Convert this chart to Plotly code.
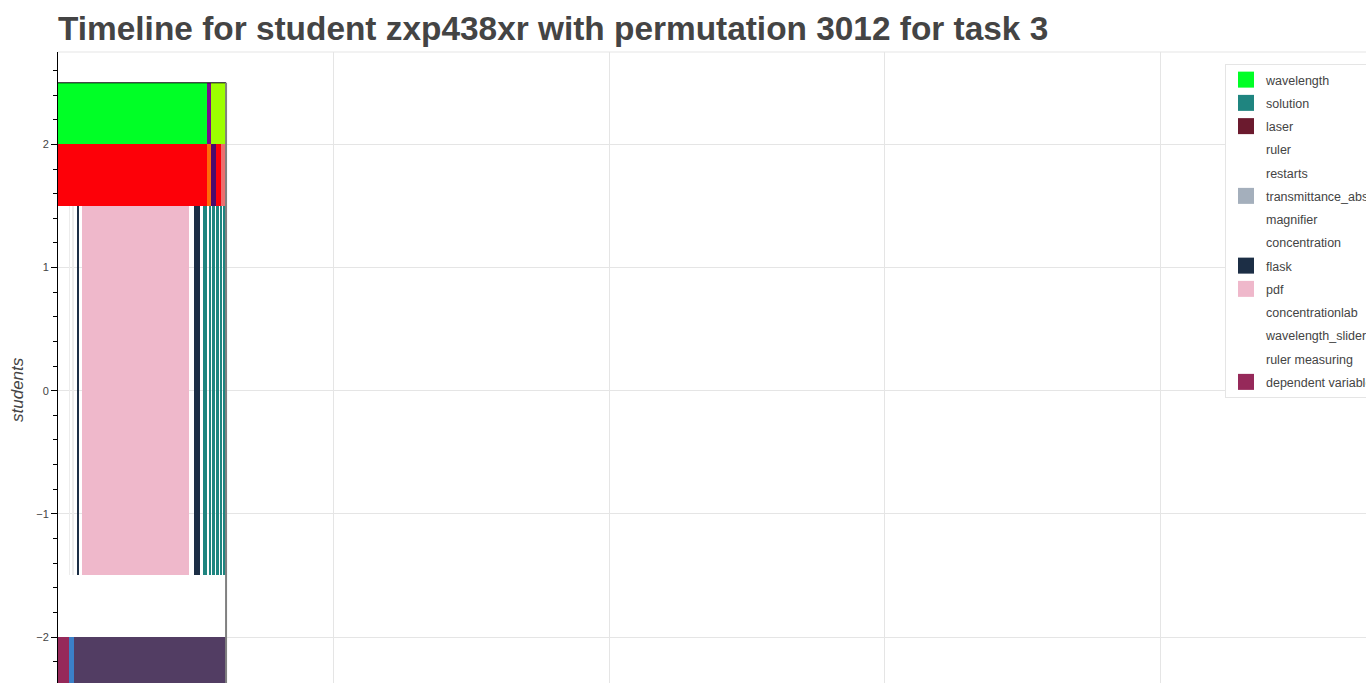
import plotly.graph_objects as go

# ---------------- data ----------------
TITLE = "Timeline for student zxp438xr with permutation 3012 for task 3"

# rows of the timeline (centre on the "students" axis, thickness)
row_center = {"wave": 2.25, "sim": 1.75, "main": 0.0, "bottom": -2.25}
row_height = {"wave": 0.5, "sim": 0.5, "main": 3.0, "bottom": 0.5}

# segments: (row, start, end) in seconds
seg_wavelength = [("wave", 0, 541)]
seg_wave_purple = [("wave", 541, 555)]
seg_wave_yellow = [("wave", 555, 608)]

seg_sim_red = [("sim", 0, 541), ("sim", 574, 592)]
seg_sim_orange = [("sim", 541, 555)]
seg_sim_purple = [("sim", 555, 574)]
seg_sim_salmon = [("sim", 592, 608)]

seg_ruler = [("main", 40, 43.5)]
seg_restarts = [("main", 53, 56.5)]
seg_flask = [("main", 68, 78), ("main", 495, 515)]
seg_pdf = [("main", 87, 475)]
seg_solution = [("main", 526, 541), ("main", 547, 555), ("main", 560, 569),
                ("main", 573, 583), ("main", 587, 595), ("main", 599, 610)]

seg_dependent = [("bottom", 0, 40)]
seg_bottom_blue = [("bottom", 40, 58)]
seg_bottom_purple = [("bottom", 58, 610)]

legend_names = ["wavelength", "solution", "laser", "ruler", "restarts",
                "transmittance_absorbance", "magnifier", "concentration", "flask",
                "pdf", "concentrationlab", "wavelength_slider", "ruler measuring",
                "dependent variable"]
legend_colors = ["#00ff26", "#1f8580", "#6b1a2e", "#ffffff", "#ffffff",
                 "#a4afbc", "#ffffff", "#ffffff", "#1c2e45",
                 "#efb8cb", "#ffffff", "#ffffff", "#ffffff",
                 "#96295a"]

bar_groups = [
    (seg_wavelength, "#00ff26"),
    (seg_wave_purple, "#7c0a8c"),
    (seg_wave_yellow, "#9cff00"),
    (seg_sim_red, "#fd0008"),
    (seg_sim_orange, "#ff6a08"),
    (seg_sim_purple, "#4b0a6b"),
    (seg_sim_salmon, "#ec6f6f"),
    (seg_ruler, "#ececec"),
    (seg_restarts, "#ececec"),
    (seg_flask, "#1c2e45"),
    (seg_pdf, "#efb8cb"),
    (seg_solution, "#1f8580"),
    (seg_dependent, "#96295a"),
    (seg_bottom_blue, "#3b80c8"),
    (seg_bottom_purple, "#523d63"),
]

# ---------------- figure ----------------
W, H = 1366, 683
ML, MT = 58, 52
PX_PER_UNIT = 0.2755
x_max = (W - ML) / PX_PER_UNIT
y_range = [-2.373, 2.75]

fig = go.Figure()

for segs, color in bar_groups:
    fig.add_trace(go.Bar(
        orientation="h",
        y=[row_center[r] for r, s, e in segs],
        base=[s for r, s, e in segs],
        x=[e - s for r, s, e in segs],
        width=[row_height[r] for r, s, e in segs],
        marker=dict(color=color, line=dict(width=0)),
        showlegend=False,
        hoverinfo="skip",
    ))

for name, color in zip(legend_names, legend_colors):
    fig.add_trace(go.Scatter(
        x=[None], y=[None], mode="markers", name=name, legendgroup=name,
        marker=dict(symbol="square", size=16, color=color, line=dict(width=0)),
    ))

end_all = max(e for segs, _ in bar_groups for r, s, e in segs)
top_all = max(row_center[r] + row_height[r] / 2 for segs, _ in bar_groups for r, s, e in segs)

# outline of the timeline block
fig.add_shape(type="line", x0=0, x1=end_all, y0=top_all, y1=top_all,
              xref="x", yref="y", line=dict(color="#000000", width=1))
fig.add_shape(type="line", x0=end_all, x1=end_all, y0=top_all, y1=-2.75,
              xref="x", yref="y", line=dict(color="#808080", width=2))
# plot outline (top)
fig.add_shape(type="line", x0=0, x1=1, y0=1, y1=1, xref="paper", yref="paper",
              line=dict(color="#e5e5e5", width=1))

fig.update_layout(
    width=W, height=H,
    margin=dict(l=ML, r=0, t=MT, b=0, pad=0, autoexpand=False),
    paper_bgcolor="white", plot_bgcolor="white",
    barmode="overlay", bargap=0,
    font=dict(family="Liberation Sans, Arial, sans-serif", color="#444444", size=12),
    title=dict(text=f"<b>{TITLE}</b>", x=ML / W, xanchor="left", xref="container",
               y=1 - 28 / H, yanchor="middle", yref="container",
               font=dict(size=33.4, color="#444444", family="Liberation Sans, Arial, sans-serif")),
    showlegend=True,
    legend=dict(x=(1225 - ML) / (W - ML), xanchor="left", y=(H - 64) / (H - MT), yanchor="top",
                bgcolor="white", bordercolor="#e5e5e5", borderwidth=1,
                font=dict(size=12.5, color="#444444"), traceorder="grouped",
                tracegroupgap=4),
    xaxis=dict(range=[0, x_max], dtick=1000, tick0=0, showgrid=True, gridcolor="#e5e5e5",
               zeroline=False, showticklabels=False, ticks="", showline=False),
    yaxis=dict(range=y_range, dtick=1, tick0=0, showgrid=True, gridcolor="#e5e5e5",
               zeroline=False, showline=True, linecolor="#000000", linewidth=1,
               ticks="outside", ticklen=6, tickcolor="#000000", tickwidth=1,
               tickfont=dict(size=11, color="#444444"),
               minor=dict(dtick=0.2, ticks="outside", ticklen=4, tickcolor="#000000",
                          showgrid=False)),
    annotations=[dict(text="<i>students</i>", textangle=-90, xref="paper", yref="paper",
                      x=(17 - ML) / (W - ML), y=(H - 390) / (H - MT), xanchor="center",
                      yanchor="middle", showarrow=False,
                      font=dict(size=17, color="#444444"))],
)

fig.write_html("out.html")
